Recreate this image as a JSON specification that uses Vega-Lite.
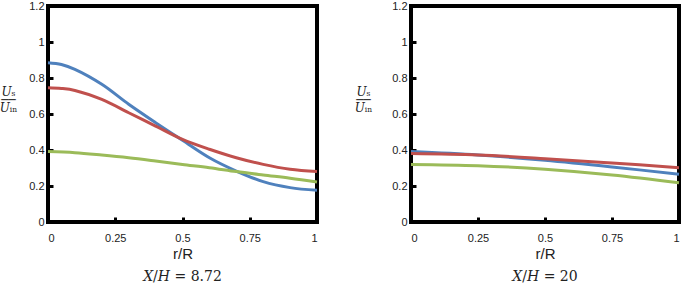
{
  "$schema": "https://vega.github.io/schema/vega-lite/v6.json",
  "background": "white",
  "padding": {"left": -3, "top": -2, "right": 0, "bottom": 0},
  "bounds": "flush",
  "spacing": 94,
  "config": {
    "view": {"stroke": "black", "strokeWidth": 4},
    "axis": {
      "grid": false, "domain": false, "ticks": true, "tickColor": "black",
      "tickSize": -5, "tickWidth": 3,
      "labelFont": "Liberation Sans", "labelFontSize": 11, "labelColor": "#222",
      "titleFont": "Liberation Sans", "titleFontWeight": "normal", "titleColor": "#222",
      "labelExpr": "datum.value + ''"
    },
    "title": {"font": "DejaVu Serif", "fontSize": 14, "fontWeight": "normal", "color": "#222", "orient": "bottom"}
  },
  "datasets": {
    "d": [
      {"panel": "a", "s": "blue", "r": 0, "v": 0.885},
      {"panel": "a", "s": "blue", "r": 0.05, "v": 0.875},
      {"panel": "a", "s": "blue", "r": 0.1, "v": 0.848},
      {"panel": "a", "s": "blue", "r": 0.2, "v": 0.765},
      {"panel": "a", "s": "blue", "r": 0.3, "v": 0.654},
      {"panel": "a", "s": "blue", "r": 0.4, "v": 0.552},
      {"panel": "a", "s": "blue", "r": 0.5, "v": 0.454},
      {"panel": "a", "s": "blue", "r": 0.6, "v": 0.357},
      {"panel": "a", "s": "blue", "r": 0.7, "v": 0.283},
      {"panel": "a", "s": "blue", "r": 0.8, "v": 0.224},
      {"panel": "a", "s": "blue", "r": 0.9, "v": 0.191},
      {"panel": "a", "s": "blue", "r": 1, "v": 0.176},
      {"panel": "a", "s": "red", "r": 0, "v": 0.746},
      {"panel": "a", "s": "red", "r": 0.05, "v": 0.742},
      {"panel": "a", "s": "red", "r": 0.1, "v": 0.731},
      {"panel": "a", "s": "red", "r": 0.2, "v": 0.681},
      {"panel": "a", "s": "red", "r": 0.3, "v": 0.607},
      {"panel": "a", "s": "red", "r": 0.4, "v": 0.533},
      {"panel": "a", "s": "red", "r": 0.5, "v": 0.459},
      {"panel": "a", "s": "red", "r": 0.6, "v": 0.404},
      {"panel": "a", "s": "red", "r": 0.7, "v": 0.357},
      {"panel": "a", "s": "red", "r": 0.8, "v": 0.32},
      {"panel": "a", "s": "red", "r": 0.9, "v": 0.293},
      {"panel": "a", "s": "red", "r": 1, "v": 0.28},
      {"panel": "a", "s": "green", "r": 0, "v": 0.391},
      {"panel": "a", "s": "green", "r": 0.1, "v": 0.385},
      {"panel": "a", "s": "green", "r": 0.2, "v": 0.372},
      {"panel": "a", "s": "green", "r": 0.3, "v": 0.357},
      {"panel": "a", "s": "green", "r": 0.4, "v": 0.339},
      {"panel": "a", "s": "green", "r": 0.5, "v": 0.32},
      {"panel": "a", "s": "green", "r": 0.6, "v": 0.302},
      {"panel": "a", "s": "green", "r": 0.7, "v": 0.28},
      {"panel": "a", "s": "green", "r": 0.8, "v": 0.261},
      {"panel": "a", "s": "green", "r": 0.9, "v": 0.243},
      {"panel": "a", "s": "green", "r": 1, "v": 0.222},
      {"panel": "b", "s": "blue", "r": 0, "v": 0.391},
      {"panel": "b", "s": "blue", "r": 0.25, "v": 0.372},
      {"panel": "b", "s": "blue", "r": 0.5, "v": 0.343},
      {"panel": "b", "s": "blue", "r": 0.75, "v": 0.306},
      {"panel": "b", "s": "blue", "r": 1, "v": 0.265},
      {"panel": "b", "s": "red", "r": 0, "v": 0.38},
      {"panel": "b", "s": "red", "r": 0.25, "v": 0.372},
      {"panel": "b", "s": "red", "r": 0.5, "v": 0.352},
      {"panel": "b", "s": "red", "r": 0.75, "v": 0.328},
      {"panel": "b", "s": "red", "r": 1, "v": 0.302},
      {"panel": "b", "s": "green", "r": 0, "v": 0.32},
      {"panel": "b", "s": "green", "r": 0.25, "v": 0.313},
      {"panel": "b", "s": "green", "r": 0.5, "v": 0.293},
      {"panel": "b", "s": "green", "r": 0.75, "v": 0.261},
      {"panel": "b", "s": "green", "r": 1, "v": 0.218}
    ]
  },
  "hconcat": [
    {
      "width": 269, "height": 216,
      "data": {"name": "d"},
      "transform": [{"filter": "datum.panel === 'a'"}],
      "title": {"text": "𝑋/𝐻 = 8.72", "offset": 9},
      "mark": {"type": "line", "strokeWidth": 3, "interpolate": "catmull-rom"},
      "encoding": {
        "x": {"field": "r", "type": "quantitative", "scale": {"domain": [0, 1], "nice": false},
              "axis": {"values": [0, 0.25, 0.5, 0.75, 1], "title": "r/R", "titleFontSize": 15, "labelPadding": 15, "titlePadding": 3}},
        "y": {"field": "v", "type": "quantitative", "scale": {"domain": [0, 1.2], "nice": false},
              "axis": {"values": [0, 0.2, 0.4, 0.6, 0.8, 1, 1.2], "labelPadding": 9,
                       "title": ["𝑈ₛ", "──", "𝑈ᵢₙ"], "titleAngle": 0, "titleAlign": "center", "titleBaseline": "middle",
                       "titleX": -40, "titleY": 85, "titleFont": "DejaVu Serif", "titleFontSize": 12, "titleLineHeight": 8}},
        "color": {"field": "s", "type": "nominal", "legend": null,
                  "scale": {"domain": ["blue", "red", "green"], "range": ["#4F81BD", "#C0504D", "#9BBB59"]}}
      }
    },
    {
      "width": 268, "height": 216,
      "data": {"name": "d"},
      "transform": [{"filter": "datum.panel === 'b'"}],
      "title": {"text": "𝑋/𝐻 = 20", "offset": 9},
      "mark": {"type": "line", "strokeWidth": 3, "interpolate": "catmull-rom"},
      "encoding": {
        "x": {"field": "r", "type": "quantitative", "scale": {"domain": [0, 1], "nice": false},
              "axis": {"values": [0, 0.25, 0.5, 0.75, 1], "title": "r/R", "titleFontSize": 15, "labelPadding": 15, "titlePadding": 3}},
        "y": {"field": "v", "type": "quantitative", "scale": {"domain": [0, 1.2], "nice": false},
              "axis": {"values": [0, 0.2, 0.4, 0.6, 0.8, 1, 1.2], "labelPadding": 9,
                       "title": ["𝑈ₛ", "──", "𝑈ᵢₙ"], "titleAngle": 0, "titleAlign": "center", "titleBaseline": "middle",
                       "titleX": -48, "titleY": 85, "titleFont": "DejaVu Serif", "titleFontSize": 12, "titleLineHeight": 8}},
        "color": {"field": "s", "type": "nominal", "legend": null,
                  "scale": {"domain": ["blue", "red", "green"], "range": ["#4F81BD", "#C0504D", "#9BBB59"]}}
      }
    }
  ]
}
